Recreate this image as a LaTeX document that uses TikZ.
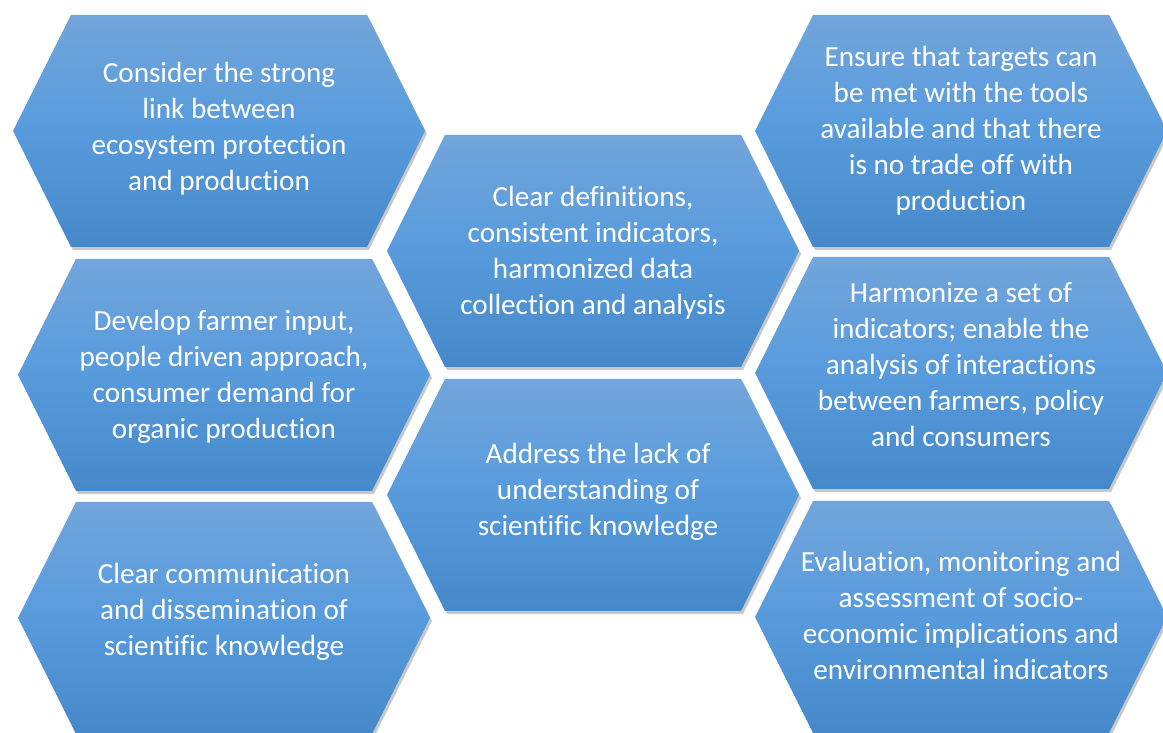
\documentclass[tikz,border=0pt]{standalone}
\usepackage{fontspec}
\setmainfont{Carlito}[Ligatures=NoCommon]
\usetikzlibrary{shadows,calc}

\definecolor{hexTop}{RGB}{114,165,219}
\definecolor{hexMid}{RGB}{87,155,221}
\definecolor{hexBot}{RGB}{69,137,202}

% one honeycomb cell: name, centre, text offset, text
\newcommand{\hexcell}[4]{%
    \path[hexfill, shift={(#2)}] (-206,0) -- (-148,116) -- (148,116)
        -- (206,0) -- (148,-116) -- (-148,-116) -- cycle;
    \node[hextext] (#1) at ($(#2)+(#3)$) {#4};
}

\begin{document}
\begin{tikzpicture}[x=0.5pt, y=0.5pt,
    hexfill/.style={top color=hexTop, bottom color=hexBot, middle color=hexMid,
        drop shadow={shadow xshift=1pt, shadow yshift=-1.5pt, opacity=0.3, fill=black!70}},
    hextext/.style={text=white, align=center, inner sep=0pt,
        font=\fontsize{14.6}{18}\selectfont}]
    % white page, right column runs off the edge
    \fill[white] (0,0) rectangle (1163,733);
    \clip (0,0) rectangle (1163,733);

    % Left column
    \hexcell{link}{219,602}{0,2}{Consider the strong\\link between\\ecosystem protection\\and production}
    \hexcell{farmer}{224,358}{0,-2}{Develop farmer input,\\people driven approach,\\consumer demand for\\organic production}
    \hexcell{comm}{224,115}{0,6}{Clear communication\\and dissemination of\\scientific knowledge}

    % Middle column
    \hexcell{defs}{593,482}{0,-2}{Clear definitions,\\consistent indicators,\\harmonized data\\collection and analysis}
    \hexcell{lack}{593,238}{5,3}{Address the lack of\\understanding of\\scientific knowledge}

    % Right column
    \hexcell{targets}{961,602}{0,0}{Ensure that targets can\\be met with the tools\\available and that there\\is no trade off with\\production}
    \hexcell{harmon}{961,360}{0,8}{Harmonize a set of\\indicators; enable the\\analysis of interactions\\between farmers, policy\\and consumers}
    \hexcell{evalu}{961,116}{0,2}{Evaluation, monitoring and\\assessment of socio-\\economic implications and\\environmental indicators}
\end{tikzpicture}
\end{document}
